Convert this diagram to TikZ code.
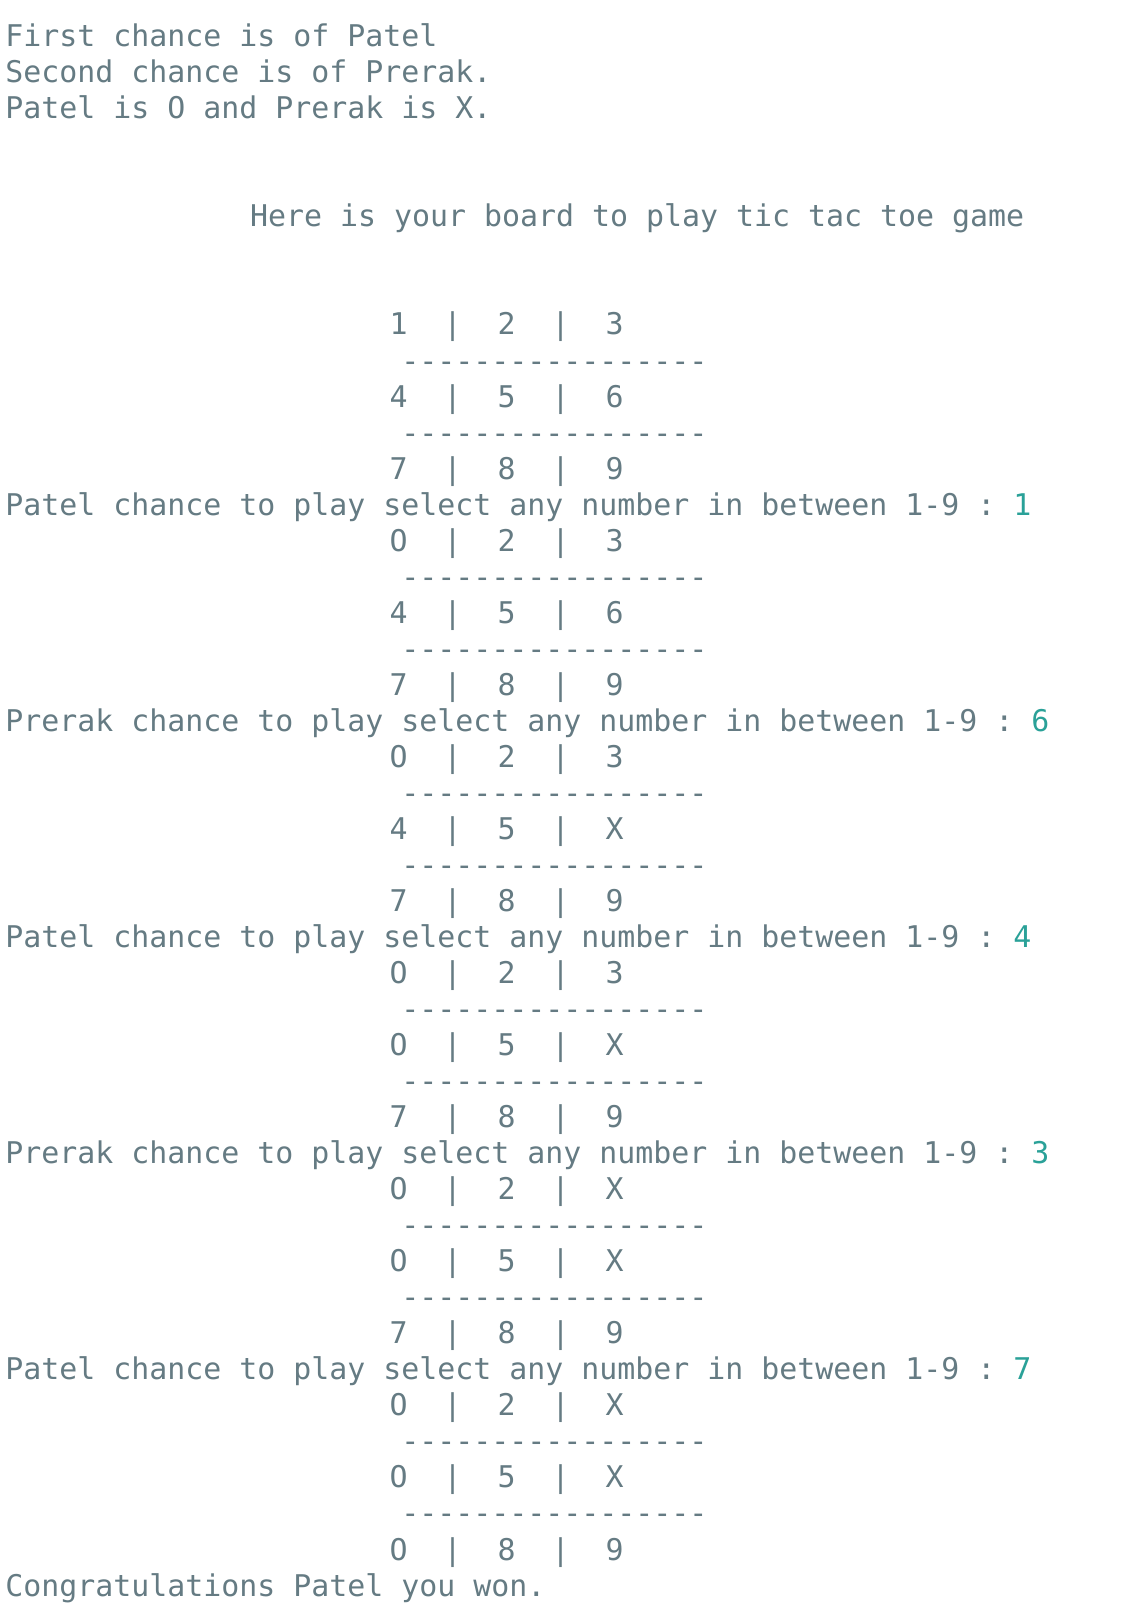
\documentclass[tikz,border=0pt]{standalone}
\usepackage{fontspec}
\usepackage{tikz}

\newfontfamily\termfont{DejaVu Sans Mono}[Scale=1]
\definecolor{termgrey}{HTML}{657B83}
\definecolor{termteal}{HTML}{2AA198}
\frenchspacing

\tikzset{
    termline/.style={anchor=base west, inner sep=0pt, outer sep=0pt, text=termgrey, font=\termfont\fontsize{29.9pt}{36pt}\selectfont},
    move/.style={text=termteal}
}

\begin{document}
\begin{tikzpicture}[x=1pt, y=1pt]
    \useasboundingbox[fill=white] (0,0) rectangle (1130,-1614);

    % Intro
    \node[termline] (i1) at (5.4,-46.7) {First chance is of Patel};
    \node[termline] (i2) at (5.4,-82.7) {Second chance is of Prerak.};
    \node[termline] (i3) at (5.4,-118.8) {Patel is O and Prerak is X.};
    \node[termline] (hdr) at (250.2,-226.9) {Here is your board to play tic tac toe game};

    % Board 0
    \node[termline] (b0r1) at (389.7,-334.9) {1~~|~~2~~|~~3};
    \node[termline] (b0s1) at (401.4,-371.0) {-----------------};
    \node[termline] (b0r2) at (389.7,-407.0) {4~~|~~5~~|~~6};
    \node[termline] (b0s2) at (401.4,-443.0) {-----------------};
    \node[termline] (b0r3) at (389.7,-479.1) {7~~|~~8~~|~~9};
    \node[termline] (p1) at (5.4,-515.1) {Patel chance to play select any number in between 1-9 : \textcolor{termteal}{1}};

    % Board 1
    \node[termline] (b1r1) at (389.7,-551.1) {O~~|~~2~~|~~3};
    \node[termline] (b1s1) at (401.4,-587.2) {-----------------};
    \node[termline] (b1r2) at (389.7,-623.2) {4~~|~~5~~|~~6};
    \node[termline] (b1s2) at (401.4,-659.2) {-----------------};
    \node[termline] (b1r3) at (389.7,-695.2) {7~~|~~8~~|~~9};
    \node[termline] (p2) at (5.4,-731.3) {Prerak chance to play select any number in between 1-9 : \textcolor{termteal}{6}};

    % Board 2
    \node[termline] (b2r1) at (389.7,-767.3) {O~~|~~2~~|~~3};
    \node[termline] (b2s1) at (401.4,-803.3) {-----------------};
    \node[termline] (b2r2) at (389.7,-839.4) {4~~|~~5~~|~~X};
    \node[termline] (b2s2) at (401.4,-875.4) {-----------------};
    \node[termline] (b2r3) at (389.7,-911.4) {7~~|~~8~~|~~9};
    \node[termline] (p3) at (5.4,-947.5) {Patel chance to play select any number in between 1-9 : \textcolor{termteal}{4}};

    % Board 3
    \node[termline] (b3r1) at (389.7,-983.5) {O~~|~~2~~|~~3};
    \node[termline] (b3s1) at (401.4,-1019.5) {-----------------};
    \node[termline] (b3r2) at (389.7,-1055.5) {O~~|~~5~~|~~X};
    \node[termline] (b3s2) at (401.4,-1091.6) {-----------------};
    \node[termline] (b3r3) at (389.7,-1127.6) {7~~|~~8~~|~~9};
    \node[termline] (p4) at (5.4,-1163.6) {Prerak chance to play select any number in between 1-9 : \textcolor{termteal}{3}};

    % Board 4
    \node[termline] (b4r1) at (389.7,-1199.7) {O~~|~~2~~|~~X};
    \node[termline] (b4s1) at (401.4,-1235.7) {-----------------};
    \node[termline] (b4r2) at (389.7,-1271.7) {O~~|~~5~~|~~X};
    \node[termline] (b4s2) at (401.4,-1307.8) {-----------------};
    \node[termline] (b4r3) at (389.7,-1343.8) {7~~|~~8~~|~~9};
    \node[termline] (p5) at (5.4,-1379.8) {Patel chance to play select any number in between 1-9 : \textcolor{termteal}{7}};

    % Final
    \node[termline] (b5r1) at (389.7,-1415.8) {O~~|~~2~~|~~X};
    \node[termline] (b5s1) at (401.4,-1451.9) {-----------------};
    \node[termline] (b5r2) at (389.7,-1487.9) {O~~|~~5~~|~~X};
    \node[termline] (b5s2) at (401.4,-1523.9) {-----------------};
    \node[termline] (b5r3) at (389.7,-1560.0) {O~~|~~8~~|~~9};
    \node[termline] (win) at (5.4,-1596.0) {Congratulations Patel you won.};
\end{tikzpicture}
\end{document}
